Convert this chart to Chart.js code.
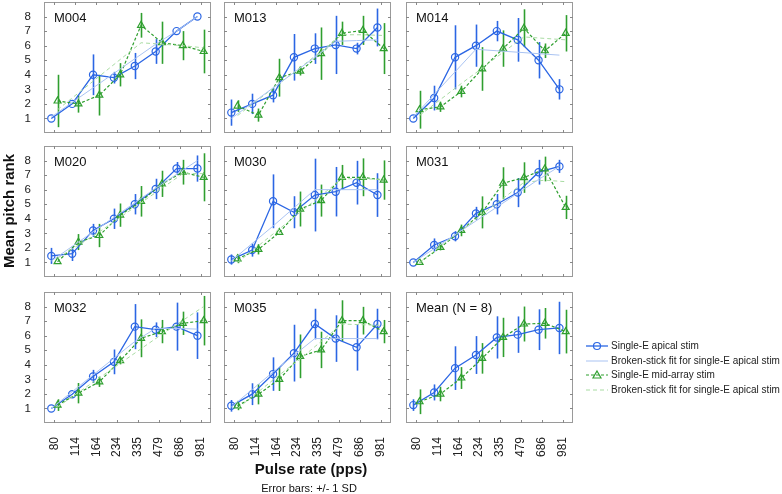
<!DOCTYPE html>
<html>
<head>
<meta charset="utf-8">
<script src="https://cdn.jsdelivr.net/npm/chart.js@4.4.1/dist/chart.umd.min.js"></script>
<style>
  body { margin: 0; background: #fff; font-family: "Liberation Sans", Arial, sans-serif; }
  #wrap { position: relative; width: 782px; height: 494px; overflow: hidden; }
  .panel { position: absolute; }
  .ptitle { position: absolute; font-size: 13px; line-height: 13px; color: #111; white-space: nowrap; }
  .lbl { position: absolute; white-space: nowrap; color: #111; }
  .leg { position: absolute; left: 586px; font-size: 10px; line-height: 12px; color: #222; white-space: nowrap; display: flex; align-items: center; }
  .leg svg { margin-right: 3px; }
</style>
</head>
<body>
<div id="wrap"></div>
<script>
// x categories (pulse rate, pps)
const rates = ['80', '114', '164', '234', '335', '479', '686', '981'];
const panelNames = ['M004', 'M013', 'M014', 'M020', 'M030', 'M031', 'M032', 'M035', 'Mean (N = 8)'];

// single-E apical stim: mean pitch rank, SD, broken-stick fit
const apicalMean = [
  [1.0, 2.0, 4.0, 3.8, 4.6, 5.6, 7.0, 8.0],
  [1.4, 2.0, 2.6, 5.2, 5.8, 6.05, 5.8, 7.25],
  [1.0, 2.4, 5.2, 6.0, 7.0, 6.4, 5.0, 3.0],
  [1.45, 1.6, 3.2, 4.0, 5.0, 6.05, 7.45, 7.45],
  [1.2, 1.85, 5.2, 4.45, 5.63, 5.86, 6.48, 5.63],
  [1.0, 2.2, 2.8, 4.37, 5.0, 5.8, 7.2, 7.6],
  [1.0, 1.98, 3.2, 4.2, 6.62, 6.41, 6.62, 6.0],
  [1.18, 1.98, 3.36, 4.8, 6.8, 5.8, 5.2, 6.8],
  [1.23, 2.1, 3.77, 4.67, 5.88, 6.07, 6.41, 6.53]
];
const apicalSD = [
  [0, 0, 1.4, 0.4, 0.9, 0.85, 0, 0],
  [0.9, 0.7, 0.5, 1.6, 1.05, 2.0, 0.4, 1.3],
  [0, 0.85, 2.2, 1.45, 0.7, 1.5, 1.25, 0.7],
  [0.55, 0.5, 0.45, 0.7, 0.7, 0.7, 0.45, 0.9],
  [0.35, 0.45, 1.85, 1.1, 2.5, 1.7, 1.5, 1.5],
  [0, 0.45, 0.35, 0.45, 0.7, 1.0, 0.85, 0.45],
  [0, 0, 0.45, 0.85, 1.55, 0.5, 1.65, 1.6],
  [0.4, 0.75, 1.15, 1.95, 1.05, 1.6, 1.6, 1.05],
  [0.4, 0.55, 1.5, 1.3, 1.45, 1.25, 1.4, 1.8]
];
const apicalFit = [
  [1.1, 2.1, 3.1, 4.1, 5.1, 6.1, 7.0, 8.0],
  [1.0, 2.05, 3.1, 4.15, 5.2, 6.3, 6.35, 6.4],
  [1.1, 2.65, 4.2, 5.75, 5.65, 5.55, 5.45, 5.35],
  [1.1, 2.1, 3.1, 4.1, 5.1, 6.1, 7.05, 8.0],
  [1.1, 2.3, 3.5, 4.75, 6.0, 6.0, 6.0, 6.0],
  [1.0, 1.95, 2.9, 3.85, 4.8, 5.75, 6.7, 7.6],
  [1.0, 2.15, 3.3, 4.45, 5.6, 6.5, 6.5, 6.45],
  [1.1, 2.3, 3.5, 4.65, 5.8, 5.8, 5.8, 5.8],
  null
];

// single-E mid-array stim
const midMean = [
  [2.2, 2.0, 2.6, 4.0, 7.4, 6.2, 6.0, 5.6],
  [1.85, 1.23, 3.8, 4.25, 5.45, 6.85, 7.05, 5.8],
  [1.6, 1.8, 2.85, 4.4, 5.8, 7.2, 5.65, 6.85],
  [1.05, 2.4, 2.85, 4.25, 5.2, 6.4, 7.2, 6.85],
  [1.25, 1.9, 3.06, 4.67, 5.25, 6.85, 6.85, 6.66],
  [1.0, 2.03, 3.2, 4.44, 6.44, 6.83, 7.42, 4.78],
  [1.23, 2.05, 2.83, 4.28, 5.82, 6.28, 6.85, 7.03],
  [1.18, 1.98, 3.0, 4.58, 5.02, 7.03, 7.03, 6.28],
  [1.46, 1.99, 3.09, 4.44, 5.88, 6.8, 6.85, 6.28]
];
const midSD = [
  [1.8, 0.6, 1.4, 0.8, 0.85, 1.45, 1.0, 1.5],
  [0.4, 0.45, 1.3, 0.3, 1.8, 0.8, 1.0, 1.75],
  [1.3, 0.35, 0.4, 1.5, 1.25, 1.3, 0.5, 1.25],
  [0, 0.55, 0.8, 0.8, 1.05, 0.9, 0.85, 1.65],
  [0.3, 0.35, 0, 1.2, 1.1, 0.85, 1.3, 1.35],
  [0, 0.2, 0.4, 1.1, 1.1, 1.05, 0.85, 0.8],
  [0.4, 0.7, 0.35, 0.25, 1.3, 0.8, 0.8, 1.7],
  [0.3, 0.7, 0.8, 1.5, 1.25, 1.4, 0.95, 0.8],
  [0.85, 0.5, 0.75, 1.05, 1.35, 1.2, 1.05, 1.5]
];
const midFit = [
  [1.6, 2.75, 3.9, 5.05, 6.2, 6.1, 6.0, 5.85],
  [1.2, 2.3, 3.4, 4.5, 5.6, 6.75, 6.75, 6.7],
  [1.2, 2.3, 3.4, 4.45, 5.55, 6.6, 6.5, 6.4],
  [1.3, 2.2, 3.1, 4.1, 5.1, 6.1, 7.1, 7.1],
  [1.0, 2.15, 3.3, 4.45, 5.6, 6.75, 6.75, 6.7],
  [1.0, 2.1, 3.2, 4.3, 5.4, 6.5, 6.65, 6.55],
  [1.1, 2.1, 3.1, 4.1, 5.1, 6.1, 7.05, 8.0],
  [1.0, 2.15, 3.3, 4.4, 5.6, 6.8, 6.75, 6.7],
  null
];
const yTicks = [1, 2, 3, 4, 5, 6, 7, 8];

const BLUE = '#2b66e4';
const GREEN = '#2f9f2f';
const LBLUE = '#a9c3f2';
const LGREEN = '#a8dba2';
const FONT = '"Liberation Sans", Arial, sans-serif';

const colLeft = [44, 224, 406];
const rowTop = [2, 146, 292];
const PW = 167, PH = 131;

const wrap = document.getElementById('wrap');

function pts(vals, off) {
  return vals.map((v, i) => ({ x: i + off, y: v }));
}

// box, inner ticks and error bars, placed with the chart's own scales
const panelPlugin = {
  id: 'panelBox',
  beforeDatasetsDraw(chart) {
    const { ctx, scales: { x, y } } = chart;
    const eb = chart.options.plugins.panelBox;
    ctx.save();
    ctx.lineWidth = 1.6;
    [[eb.midMean, eb.midSD, 0.15, GREEN], [eb.apMean, eb.apSD, -0.15, BLUE]].forEach(([m, sd, off, col]) => {
      ctx.strokeStyle = col;
      m.forEach((v, i) => {
        if (!sd[i]) return;
        const px = Math.round(x.getPixelForValue(i + off)) + 0.5;
        ctx.beginPath();
        ctx.moveTo(px, y.getPixelForValue(v - sd[i]));
        ctx.lineTo(px, y.getPixelForValue(v + sd[i]));
        ctx.stroke();
      });
    });
    ctx.restore();
  },
  afterDraw(chart) {
    const { ctx, chartArea: a, scales: { x, y } } = chart;
    ctx.save();
    ctx.strokeStyle = '#9a9a9a';
    ctx.lineWidth = 1;
    ctx.strokeRect(a.left + 0.5, a.top + 0.5, a.right - a.left - 1, a.bottom - a.top - 1);
    ctx.strokeStyle = '#888';
    ctx.beginPath();
    rates.forEach((r, i) => {
      const px = Math.round(x.getPixelForValue(i)) + 0.5;
      ctx.moveTo(px, a.top); ctx.lineTo(px, a.top + 3);
      ctx.moveTo(px, a.bottom); ctx.lineTo(px, a.bottom - 3);
    });
    yTicks.forEach(t => {
      const py = Math.round(y.getPixelForValue(t)) + 0.5;
      ctx.moveTo(a.left, py); ctx.lineTo(a.left + 3, py);
      ctx.moveTo(a.right, py); ctx.lineTo(a.right - 3, py);
    });
    ctx.stroke();
    ctx.restore();
  }
};

panelNames.forEach((name, p) => {
  const c = p % 3, r = Math.floor(p / 3);
  const yW = c === 0 ? 30 : 1;
  const xH = r === 2 ? 40 : 1;
  const div = document.createElement('div');
  div.className = 'panel';
  div.style.left = (colLeft[c] - yW) + 'px';
  div.style.top = (rowTop[r] - 1) + 'px';
  div.style.width = (PW + yW + 1) + 'px';
  div.style.height = (PH + 1 + xH) + 'px';
  const cv = document.createElement('canvas');
  div.appendChild(cv);
  wrap.appendChild(div);

  const t = document.createElement('div');
  t.className = 'ptitle';
  t.style.left = (colLeft[c] + 10) + 'px';
  t.style.top = (rowTop[r] + 9) + 'px';
  t.textContent = name;
  wrap.appendChild(t);

  const datasets = [];
  if (apicalFit[p]) {
    datasets.push({ data: pts(apicalFit[p], -0.15), borderColor: LBLUE, borderWidth: 1, pointRadius: 0, fill: false });
  }
  if (midFit[p]) {
    datasets.push({ data: pts(midFit[p], 0.15), borderColor: LGREEN, borderWidth: 1, borderDash: [4, 3], pointRadius: 0, fill: false });
  }
  datasets.push({
    data: pts(midMean[p], 0.15), borderColor: GREEN, borderWidth: 1.2, borderDash: [3, 2],
    pointStyle: 'triangle', pointRadius: 4, pointBorderColor: GREEN, pointBackgroundColor: 'rgba(255,255,255,0)', pointBorderWidth: 1.2, fill: false
  });
  datasets.push({
    data: pts(apicalMean[p], -0.15), borderColor: BLUE, borderWidth: 1.3,
    pointStyle: 'circle', pointRadius: 3.6, pointBorderColor: BLUE, pointBackgroundColor: 'rgba(255,255,255,0)', pointBorderWidth: 1.2, fill: false
  });

  new Chart(cv, {
    type: 'line',
    data: { datasets },
    plugins: [panelPlugin],
    options: {
      responsive: true,
      maintainAspectRatio: false,
      animation: false,
      layout: { autoPadding: false, padding: { top: 1, right: 1, left: 0, bottom: 0 } },
      plugins: {
        legend: { display: false },
        tooltip: { enabled: false },
        panelBox: { apMean: apicalMean[p], apSD: apicalSD[p], midMean: midMean[p], midSD: midSD[p] }
      },
      scales: {
        x: {
          type: 'linear', min: -0.5, max: 7.5,
          afterBuildTicks: s => { s.ticks = rates.map((v, i) => ({ value: i })); },
          afterFit: s => { s.height = xH; s.paddingLeft = 0; s.paddingRight = 0; },
          grid: { display: false },
          border: { display: false },
          ticks: {
            display: r === 2, autoSkip: false, minRotation: 90, maxRotation: 90, padding: 6,
            font: { family: FONT, size: 12 }, color: '#222',
            callback: v => rates[v]
          }
        },
        y: {
          min: 0, max: 9,
          afterBuildTicks: s => { s.ticks = yTicks.map(v => ({ value: v })); },
          afterFit: s => { s.width = yW; s.paddingTop = 0; s.paddingBottom = 0; },
          grid: { display: false },
          border: { display: false },
          ticks: { display: c === 0, autoSkip: false, padding: 5, font: { family: FONT, size: 11.5 }, color: '#222' }
        }
      }
    }
  });
});

// axis labels
function label(text, css) {
  const d = document.createElement('div');
  d.className = 'lbl';
  d.textContent = text;
  Object.assign(d.style, css);
  wrap.appendChild(d);
}
label('Mean pitch rank', { left: '8px', top: '211px', fontSize: '15px', fontWeight: 'bold', transform: 'translate(-50%,-50%) rotate(-90deg)' });
label('Pulse rate (pps)', { left: '311px', top: '468px', fontSize: '15px', fontWeight: 'bold', transform: 'translate(-50%,-50%)' });
label('Error bars: +/- 1 SD', { left: '309px', top: '488px', fontSize: '11px', transform: 'translate(-50%,-50%)' });

// legend
const legendItems = [
  ['Single-E apical stim', BLUE, 1.3, '', 'circle'],
  ['Broken-stick fit for single-E apical stim', LBLUE, 1, '', null],
  ['Single-E mid-array stim', GREEN, 1.2, '3,2', 'triangle'],
  ['Broken-stick fit for single-E apical stim', LGREEN, 1, '4,3', null]
];
const legY = [346, 360.5, 375, 389.5];
legendItems.forEach(([txt, col, w, dash, mk], i) => {
  const d = document.createElement('div');
  d.className = 'leg';
  d.style.top = (legY[i] - 6) + 'px';
  let m = '';
  if (mk === 'circle') m = `<circle cx="11" cy="6" r="3.5" fill="none" stroke="${col}" stroke-width="1.2"/>`;
  if (mk === 'triangle') m = `<polygon points="11,2 15,9 7,9" fill="none" stroke="${col}" stroke-width="1.2"/>`;
  d.innerHTML = `<svg width="22" height="12"><line x1="0" y1="6" x2="22" y2="6" stroke="${col}" stroke-width="${w}" stroke-dasharray="${dash}"/>${m}</svg><span>${txt}</span>`;
  wrap.appendChild(d);
});
</script>
</body>
</html>
